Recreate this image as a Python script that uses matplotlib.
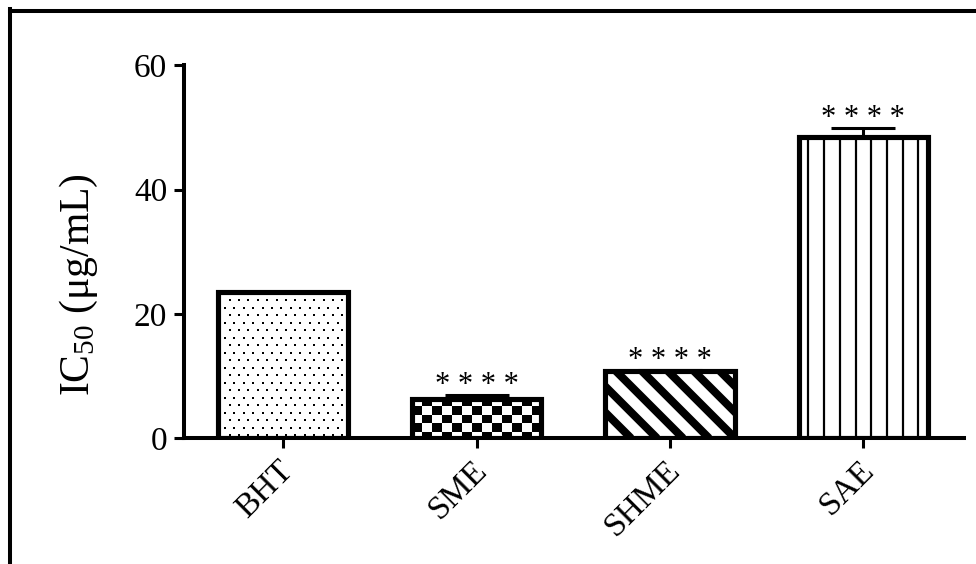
import numpy as np
import matplotlib
matplotlib.use("Agg")
import matplotlib.pyplot as plt
import matplotlib.transforms as mtransforms
from matplotlib.lines import Line2D
from matplotlib.collections import LineCollection

# IC50 values (µg/mL) with upper SD
samples = ["BHT", "SME", "SHME", "SAE"]
ic50 = [23.5, 6.3, 10.9, 48.5]
sd_upper = [0.0, 0.6, 0.1, 1.4]
significance = ["", "****", "****", "****"]
y_ticks = [0, 20, 40, 60]

plt.rcParams["font.family"] = ["Liberation Serif", "DejaVu Serif"]
plt.rcParams["mathtext.fontset"] = "custom"
plt.rcParams["mathtext.rm"] = "Liberation Serif"
plt.rcParams["mathtext.default"] = "regular"

W, H = 976, 564
fig = plt.figure(figsize=(W / 100, H / 100), dpi=100)
ax = fig.add_axes([184 / W, 1 - 438.3 / H, (964 - 184) / W, (438.3 - 65.4) / H])

x = np.arange(len(samples))
bar_w = 0.67
ax.set_xlim(-0.512, 3.52)
ax.set_ylim(0, 60)

# pixels per data unit
sx = ax.transData.transform((1, 0))[0] - ax.transData.transform((0, 0))[0]
sy = ax.transData.transform((0, 1))[1] - ax.transData.transform((0, 0))[1]

fill_bars = ax.bar(x, ic50, bar_w, color="white", edgecolor="none", zorder=2)


def dot_fill(patch, step_x=9.4, step_y=7.5):
    x0 = patch.get_x()
    nx = int(patch.get_width() * sx / step_x) + 2
    ny = int(patch.get_height() * sy / step_y) + 2
    pts = []
    for j in range(ny):
        off = 0.5 * step_x if j % 2 else 0.0
        for i in range(nx):
            pts.append((x0 + (i * step_x + off + 2) / sx, (j * step_y + 3) / sy))
    pts = np.array(pts)
    coll = ax.scatter(pts[:, 0], pts[:, 1], s=3.0, marker="s", color="black",
                      linewidths=0, zorder=3)
    coll.set_clip_path(patch)


def checker_fill(patch, cell_w=10.3, cell_h=8.3):
    w_px = patch.get_width() * sx
    h_px = patch.get_height() * sy
    ncol = max(1, int(round(w_px / cell_w)))
    nrow = int(np.ceil(h_px / cell_h))
    grid = np.add.outer(np.arange(nrow), np.arange(ncol)) % 2
    x0 = patch.get_x()
    top = nrow * cell_h / sy
    im = ax.imshow(grid, cmap="gray_r", origin="upper", aspect="auto",
                   interpolation="nearest", vmin=0, vmax=1,
                   extent=(x0, x0 + patch.get_width(), patch.get_height() - top,
                           patch.get_height()), zorder=3)
    im.set_clip_path(patch)


def diagonal_fill(patch, period=26.0, lw_px=8.0):
    x0 = patch.get_x()
    x1 = x0 + patch.get_width()
    h = patch.get_height()
    h_px = h * sy
    segs = []
    k = x0 - h_px / sx - period / sx
    while k < x1 + period / sx:
        segs.append([(k, h), (k + h_px / sx, 0)])
        k += period / sx
    lc = LineCollection(segs, colors="black", linewidths=lw_px * 0.72,
                        capstyle="butt", zorder=3)
    ax.add_collection(lc, autolim=False)
    lc.set_clip_path(patch)


def vertical_fill(patch, step=15.7, lw_px=2.2):
    cx = patch.get_x() + patch.get_width() / 2
    half = patch.get_width() * sx / 2
    n = int(half / step) + 1
    offs = (np.arange(-n, n) + 0.5) * step
    segs = [[(cx + o / sx, 0), (cx + o / sx, patch.get_height())] for o in offs]
    lc = LineCollection(segs, colors="black", linewidths=lw_px * 0.72, zorder=3)
    ax.add_collection(lc, autolim=False)
    lc.set_clip_path(patch)


fillers = [dot_fill, checker_fill, diagonal_fill, vertical_fill]
for patch, filler in zip(fill_bars.patches, fillers):
    filler(patch)

edge_bars = ax.bar(x, ic50, bar_w, fill=False, edgecolor="black",
                   linewidth=3.7, zorder=4)
for p in edge_bars.patches:
    p.set_joinstyle("miter")

ax.errorbar(x, ic50, yerr=[np.zeros(len(x)), sd_upper], fmt="none",
            ecolor="black", elinewidth=2.2, capsize=23, capthick=2.2, zorder=5)

star_tf = mtransforms.offset_copy(ax.transData, fig=fig, x=0, y=2, units="dots")
for xi, v, e, s in zip(x, ic50, sd_upper, significance):
    if s:
        ax.text(xi, v + e, " ".join(s), transform=star_tf, ha="center",
                va="baseline", fontsize=22, zorder=6)

ax.set_xlim(-0.512, 3.52)
ax.set_ylim(0, 60)
ax.set_yticks(y_ticks)
ax.set_xticks(x)
ax.set_xticklabels(samples, rotation=45, ha="right", rotation_mode="anchor")

for side in ("top", "right"):
    ax.spines[side].set_visible(False)
for side in ("left", "bottom"):
    ax.spines[side].set_linewidth(2.9)
    ax.spines[side].set_capstyle("projecting")

ax.tick_params(axis="both", direction="out", length=7, width=2.2,
               labelsize=24, pad=5.0)

shift = mtransforms.ScaledTranslation(-5 / 100, 0, fig.dpi_scale_trans)
for lab in ax.get_xticklabels():
    lab.set_transform(lab.get_transform() + shift)

ax.set_ylabel(r"IC$_{50}$ (μg/mL)", fontsize=30)
ax.yaxis.set_label_coords(-0.108, 0.411)

# outer frame
fig.add_artist(Line2D([10 / W, 10 / W], [0, 1 - 9 / H], color="black",
                      linewidth=2.9, transform=fig.transFigure,
                      solid_capstyle="projecting"))
fig.add_artist(Line2D([10 / W, 1], [1 - 11 / H, 1 - 11 / H], color="black",
                      linewidth=2.9, transform=fig.transFigure,
                      solid_capstyle="projecting"))

fig.savefig("out.png", dpi=100)
